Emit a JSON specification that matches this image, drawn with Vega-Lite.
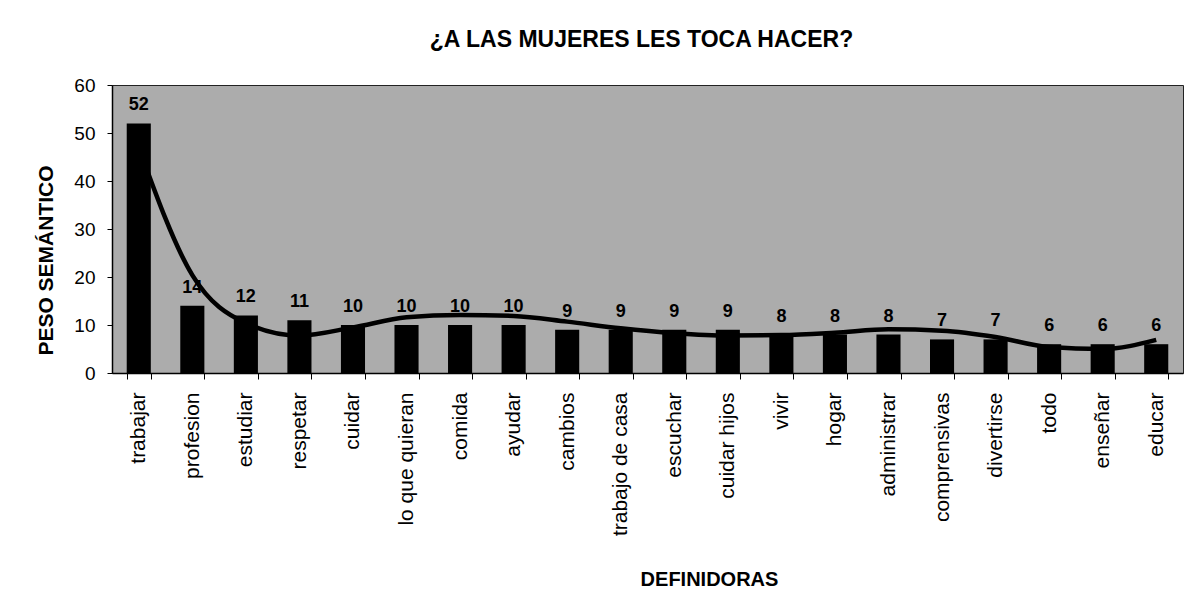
{
  "$schema": "https://vega.github.io/schema/vega-lite/v6.json",
  "width": 1071,
  "height": 288,
  "autosize": {"type": "none"},
  "padding": {"left": 112, "top": 85, "right": 8, "bottom": 233},
  "background": "white",
  "title": {"text": "¿A LAS MUJERES LES TOCA HACER?", "font": "Liberation Sans", "fontSize": 23, "fontWeight": "bold", "color": "black", "anchor": "middle", "frame": "group", "offset": 24, "dx": -6},
  "config": {"view": {"fill": "#acacac", "stroke": "#222222", "strokeWidth": 1}, "font": "Liberation Sans"},
  "data": {"values": [
    {"d": "trabajar", "v": 52, "t": 47},
    {"d": "profesion", "v": 14, "t": 20.4},
    {"d": "estudiar", "v": 12, "t": 10.4},
    {"d": "respetar", "v": 11, "t": 7.8},
    {"d": "cuidar", "v": 10, "t": 9.5},
    {"d": "lo que quieran", "v": 10, "t": 11.6},
    {"d": "comida", "v": 10, "t": 12.1},
    {"d": "ayudar", "v": 10, "t": 11.9},
    {"d": "cambios", "v": 9, "t": 10.7},
    {"d": "trabajo de casa", "v": 9, "t": 9.3},
    {"d": "escuchar", "v": 9, "t": 8.3},
    {"d": "cuidar hijos", "v": 9, "t": 7.8},
    {"d": "vivir", "v": 8, "t": 7.9},
    {"d": "hogar", "v": 8, "t": 8.4},
    {"d": "administrar", "v": 8, "t": 9.1},
    {"d": "comprensivas", "v": 7, "t": 8.8},
    {"d": "divertirse", "v": 7, "t": 7.5},
    {"d": "todo", "v": 6, "t": 5.4},
    {"d": "enseñar", "v": 6, "t": 5.0},
    {"d": "educar", "v": 6, "t": 6.9}
  ]},
  "encoding": {
    "x": {
      "field": "d", "type": "nominal", "sort": null,
      "scale": {"paddingInner": 0.55, "paddingOuter": 0.275},
      "axis": {
        "title": "DEFINIDORAS", "titleFont": "Liberation Sans", "titleFontSize": 20, "titleFontWeight": "bold", "titleColor": "black",
        "titleX": 597, "titleY": 212, "titleBaseline": "alphabetic", "titleAlign": "center",
        "labelAngle": -90, "labelAlign": "right", "labelBaseline": "middle", "labelFont": "Liberation Sans", "labelFontSize": 21, "labelColor": "black", "labelPadding": 13,
        "tickSize": 6, "tickBand": "extent", "tickColor": "black", "domainColor": "black", "domainWidth": 1.5, "labelOverlap": false
      }
    }
  },
  "layer": [
    {
      "mark": {"type": "line", "interpolate": "monotone", "color": "black", "strokeWidth": 4.5},
      "encoding": {"y": {"field": "t", "type": "quantitative", "scale": {"domain": [0, 60]},
        "axis": {
          "title": "PESO SEMÁNTICO", "titleFont": "Liberation Sans", "titleFontSize": 21, "titleFontWeight": "bold", "titleColor": "black",
          "titleX": -60, "titleY": 175, "titleAngle": -90, "titleBaseline": "alphabetic", "titleAlign": "center",
          "values": [0, 10, 20, 30, 40, 50, 60], "grid": false,
          "labelFont": "Liberation Sans", "labelFontSize": 19, "labelColor": "black", "labelPadding": 12,
          "tickSize": 5, "tickColor": "black", "domainColor": "black", "domainWidth": 1.5
        }}}
    },
    {
      "mark": {"type": "bar", "color": "black"},
      "encoding": {"y": {"field": "v", "type": "quantitative", "scale": {"domain": [0, 60]},
        "axis": {
          "title": "PESO SEMÁNTICO", "titleFont": "Liberation Sans", "titleFontSize": 21, "titleFontWeight": "bold", "titleColor": "black",
          "titleX": -60, "titleY": 175, "titleAngle": -90, "titleBaseline": "alphabetic", "titleAlign": "center",
          "values": [0, 10, 20, 30, 40, 50, 60], "grid": false,
          "labelFont": "Liberation Sans", "labelFontSize": 19, "labelColor": "black", "labelPadding": 12,
          "tickSize": 5, "tickColor": "black", "domainColor": "black", "domainWidth": 1.5
        }}}
    },
    {
      "mark": {"type": "text", "baseline": "alphabetic", "dy": -13, "fontSize": 18, "fontWeight": "bold", "color": "black", "font": "Liberation Sans"},
      "encoding": {
        "y": {"field": "v", "type": "quantitative", "scale": {"domain": [0, 60]},
          "axis": {
            "title": "PESO SEMÁNTICO", "titleFont": "Liberation Sans", "titleFontSize": 21, "titleFontWeight": "bold", "titleColor": "black",
            "titleX": -60, "titleY": 175, "titleAngle": -90, "titleBaseline": "alphabetic", "titleAlign": "center",
            "values": [0, 10, 20, 30, 40, 50, 60], "grid": false,
            "labelFont": "Liberation Sans", "labelFontSize": 19, "labelColor": "black", "labelPadding": 12,
            "tickSize": 5, "tickColor": "black", "domainColor": "black", "domainWidth": 1.5
          }},
        "text": {"field": "v", "type": "quantitative"}
      }
    }
  ]
}
